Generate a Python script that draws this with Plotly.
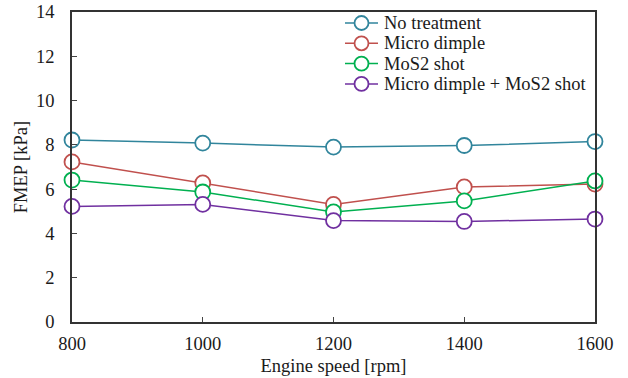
import plotly.graph_objects as go

speeds = [800, 1000, 1200, 1400, 1600]
no_treatment = [8.22, 8.08, 7.90, 7.97, 8.15]
micro_dimple = [7.23, 6.28, 5.31, 6.10, 6.23]
mos2_shot = [6.41, 5.87, 4.97, 5.47, 6.37]
combined = [5.22, 5.31, 4.58, 4.54, 4.65]

series = [
    ("No treatment", no_treatment, "#31859C"),
    ("Micro dimple", micro_dimple, "#C0504D"),
    ("MoS2 shot", mos2_shot, "#00B050"),
    ("Micro dimple + MoS2 shot", combined, "#7030A0"),
]

W, H = 628, 378
ML, MR, MT, MB = 72, 33, 12, 56
PW, PH = W - ML - MR, H - MT - MB

fig = go.Figure()
for name, vals, col in series:
    fig.add_trace(go.Scatter(
        x=speeds, y=vals, name=name, mode="lines+markers",
        line=dict(color=col, width=1.5),
        marker=dict(symbol="circle", size=15, color="white",
                    line=dict(color=col, width=1.8)),
        cliponaxis=False, showlegend=False,
    ))

font = dict(family="Liberation Serif", size=18.5, color="#1a1a1a")

# manual legend (compact row spacing like the reference)
leg_x0 = (345 - ML) / PW
leg_x1 = (378 - ML) / PW
leg_tx = (382 - ML) / PW
leg_y0 = 1 - (23 - MT) / PH
leg_dy = 20.3 / PH
shapes, annots = [], []
for i, (name, vals, col) in enumerate(series):
    yy = leg_y0 - i * leg_dy
    shapes.append(dict(type="line", xref="paper", yref="paper",
                       x0=leg_x0, x1=leg_x1, y0=yy, y1=yy,
                       line=dict(color=col, width=1.5)))
    cx = (leg_x0 + leg_x1) / 2
    shapes.append(dict(type="circle", xref="paper", yref="paper",
                       xsizemode="pixel", ysizemode="pixel",
                       xanchor=cx, yanchor=yy, x0=-7, x1=7, y0=-7, y1=7,
                       fillcolor="white", line=dict(color=col, width=1.8)))
    annots.append(dict(text=name, xref="paper", yref="paper", x=leg_tx, y=yy,
                       xanchor="left", yanchor="middle", showarrow=False,
                       font=font))

fig.update_layout(
    width=W, height=H,
    margin=dict(l=ML, r=MR, t=MT, b=MB, autoexpand=False),
    paper_bgcolor="white", plot_bgcolor="white",
    font=font,
    showlegend=False,
    shapes=shapes, annotations=annots,
    xaxis=dict(range=[800, 1600], tickvals=speeds, ticks="inside", ticklen=5,
               showline=True, linecolor="#333", linewidth=1.5, mirror=True,
               showgrid=False, zeroline=False, tickfont=font, automargin=False,
               ticklabelstandoff=4,
               title=dict(text="Engine speed [rpm]", standoff=6, font=font)),
    yaxis=dict(range=[0, 14], dtick=2, ticks="inside", ticklen=5,
               showline=True, linecolor="#333", linewidth=1.5, mirror=True,
               showgrid=False, zeroline=False, tickfont=font, automargin=False,
               ticklabelstandoff=12,
               title=dict(text="FMEP [kPa]", standoff=4, font=font)),
)
fig.write_html("out.html", config={"displayModeBar": False})
with open("out.html", "r", encoding="utf-8") as f:
    html = f.read()
html = html.replace("<body>", '<body style="margin:0;padding:0;overflow:hidden">', 1)
with open("out.html", "w", encoding="utf-8") as f:
    f.write(html)
